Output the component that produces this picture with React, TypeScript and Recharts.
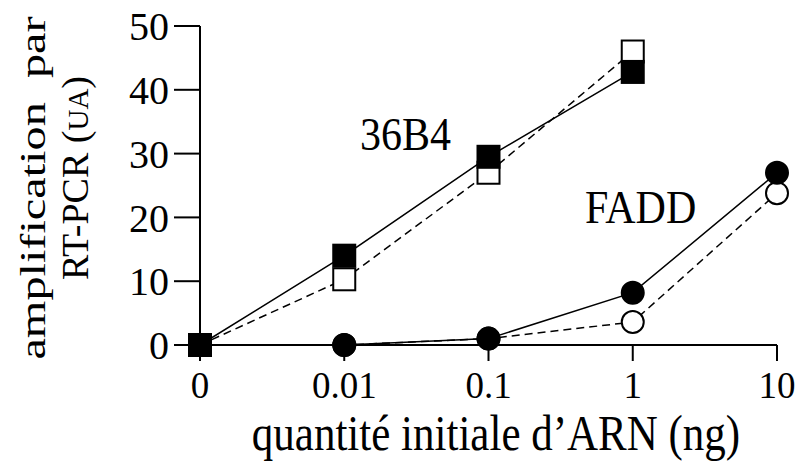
import React from "react";
import { LineChart, Line, XAxis, YAxis } from "recharts";

// quantité initiale d'ARN (ng)
const categories = ["0", "0.01", "0.1", "1", "10"];

// 36B4: filled squares (solid line) and open squares (dashed line)
const b4Filled = [0, 14, 29.5, 42.8, null];
const b4Open = [0, 10.3, 27, 46, null];

// FADD: filled circles (solid line) and open circles (dashed line)
const faddFilled = [0, 0, 1, 8.2, 27];
const faddOpen = [0, 0, 1, 3.6, 23.8];

const yTicks = [0, 10, 20, 30, 40, 50];

const data = categories.map((c, i) => ({
  x: c,
  b4Filled: b4Filled[i],
  b4Open: b4Open[i],
  faddFilled: faddFilled[i],
  faddOpen: faddOpen[i],
}));

const FONT = '"Liberation Serif", "Times New Roman", serif';

const makeDot = (shape: "square" | "circle", filled: boolean) => (props: any) => {
  const { cx, cy, index, value } = props;
  if (cx == null || cy == null || value == null) return <g key={`e-${index}`} />;
  const fill = filled ? "#000" : "#fff";
  if (shape === "square") {
    return (
      <rect
        key={`s-${index}`}
        x={cx - 11}
        y={cy - 11}
        width={22}
        height={22}
        fill={fill}
        stroke="#000"
        strokeWidth={2}
      />
    );
  }
  return <circle key={`c-${index}`} cx={cx} cy={cy} r={11} fill={fill} stroke="#000" strokeWidth={2} />;
};

export default function App() {
  return (
    <div style={{ position: "absolute", left: 0, top: 0, width: 796, height: 466, background: "#fff" }}>
      <LineChart
        width={796}
        height={466}
        data={data}
        margin={{ top: 26, right: 19, bottom: 0, left: 0 }}
        style={{ fontFamily: FONT }}
      >
        <XAxis
          dataKey="x"
          height={121}
          tickSize={16}
          tickMargin={11}
          stroke="#000"
          strokeWidth={2}
          tickLine={{ stroke: "#000", strokeWidth: 2 }}
          tick={{ fill: "#000", fontSize: 37, fontFamily: FONT }}
          interval={0}
        />
        <YAxis
          domain={[0, 50]}
          ticks={yTicks}
          width={200}
          tickSize={26}
          tickMargin={5}
          stroke="#000"
          strokeWidth={2}
          tickLine={{ stroke: "#000", strokeWidth: 2 }}
          tick={{ fill: "#000", fontSize: 40, fontFamily: FONT }}
          interval={0}
        />
        <Line
          dataKey="b4Open"
          stroke="#000"
          strokeWidth={1.5}
          strokeDasharray="8 5"
          dot={makeDot("square", false)}
          activeDot={false}
          isAnimationActive={false}
        />
        <Line
          dataKey="faddOpen"
          stroke="#000"
          strokeWidth={1.5}
          strokeDasharray="8 5"
          dot={makeDot("circle", false)}
          activeDot={false}
          isAnimationActive={false}
        />
        <Line
          dataKey="b4Filled"
          stroke="#000"
          strokeWidth={1.5}
          dot={makeDot("square", true)}
          activeDot={false}
          isAnimationActive={false}
        />
        <Line
          dataKey="faddFilled"
          stroke="#000"
          strokeWidth={1.5}
          dot={makeDot("circle", true)}
          activeDot={false}
          isAnimationActive={false}
        />
        <text transform="translate(360,150) scale(1,1.08)" fontSize={42} fontFamily={FONT} fill="#000">
          36B4
        </text>
        <text transform="translate(585,223) scale(1,1.08)" fontSize={42} fontFamily={FONT} fill="#000">
          FADD
        </text>
        <text
          transform="translate(496,450) scale(1,1.2)"
          fontSize={43}
          fontFamily={FONT}
          fill="#000"
          textAnchor="middle"
        >
          quantité initiale d’ARN (ng)
        </text>
        <text
          transform="translate(45,188) rotate(-90) scale(1.38,1)"
          fontSize={35}
          fontFamily={FONT}
          fill="#000"
          textAnchor="middle"
        >
          {"amplification\u00A0\u00A0par"}
        </text>
        <text transform="translate(88,178) rotate(-90)" fontFamily={FONT} fill="#000" textAnchor="middle">
          <tspan fontSize={38}>RT-PCR (</tspan>
          <tspan fontSize={29}>UA</tspan>
          <tspan fontSize={38}>)</tspan>
        </text>
      </LineChart>
    </div>
  );
}
